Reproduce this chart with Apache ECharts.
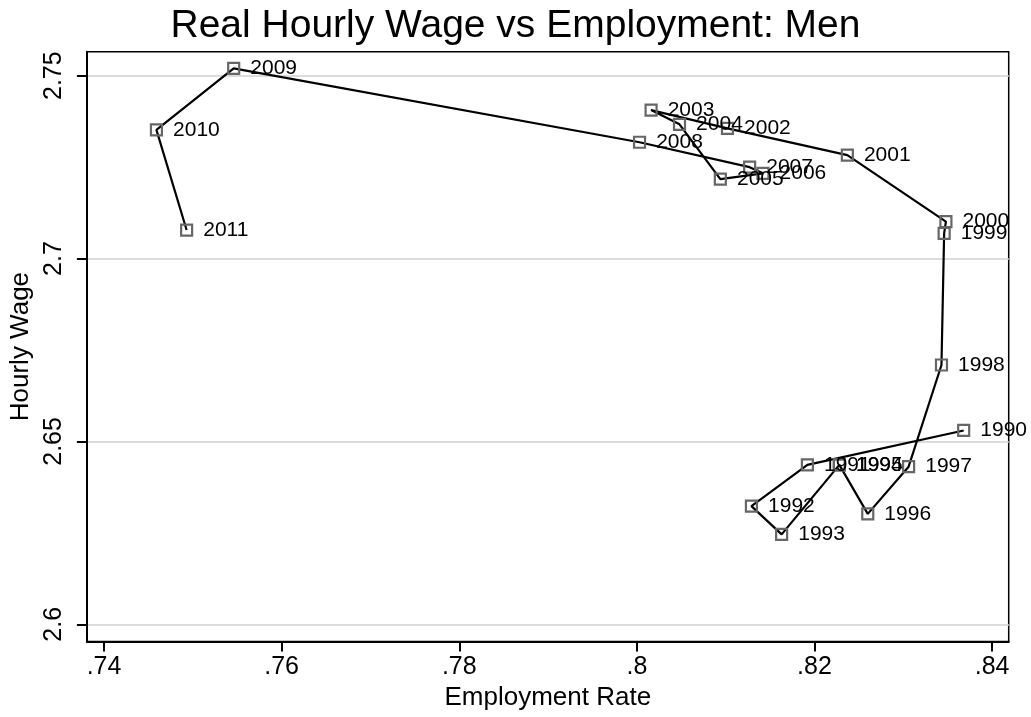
<!DOCTYPE html>
<html lang="en">
<head>
  <meta charset="UTF-8">
  <title>Real Hourly Wage vs Employment: Men</title>
  <script type="text/javascript" src="https://cdn.jsdelivr.net/npm/echarts@6/dist/echarts.min.js"></script>
  <style>
    html, body, #container {
      width: 100%;
      height: 100%;
      margin: 0;
      padding: 0;
      overflow: hidden;
      background: #fff;
    }
  </style>
</head>
<body>
  <div id="container"></div>

  <script type="text/javascript">
    // values
    var years = [1990, 1991, 1992, 1993, 1994, 1995, 1996, 1997, 1998, 1999, 2000,
                 2001, 2002, 2003, 2004, 2005, 2006, 2007, 2008, 2009, 2010, 2011];
    var employment = [.8368, .8192, .8129, .8163, .8228, .8228, .8260, .8306, .8343, .8346, .8348,
                      .8237, .8102, .8016, .8048, .8094, .8142, .8127, .8003, .7546, .7459, .7493];
    var wage = [2.6530, 2.6436, 2.6323, 2.6246, 2.6436, 2.6436, 2.6302, 2.6431, 2.6709, 2.7069, 2.7101,
                2.7283, 2.7356, 2.7406, 2.7367, 2.7217, 2.7233, 2.7250, 2.7318, 2.7520, 2.7352, 2.7078];
    var xTicks = [.74, .76, .78, .80, .82, .84];
    var yTicks = [2.6, 2.65, 2.7, 2.75];

    var points = years.map(function (y, i) { return [employment[i], wage[i]]; });

    function trimLabel(v) {
      return String(+(+v).toFixed(2)).replace(/^0\./, '.');
    }

    var font = "'Liberation Sans', Arial, sans-serif";

    var myChart = echarts.init(document.getElementById('container'), null, { renderer: 'canvas' });
    myChart.setOption({
      animation: false,
      backgroundColor: '#fff',
      title: {
        text: 'Real Hourly Wage vs Employment: Men',
        left: 'center',
        top: 2,
        textStyle: { fontFamily: font, fontSize: 39, fontWeight: 'normal', color: '#000' }
      },
      grid: {
        left: 83.5, right: 22.3, top: 51.7, bottom: 75.5,
        show: true, borderColor: '#000', borderWidth: 1.5, backgroundColor: '#fff'
      },
      xAxis: {
        type: 'value',
        min: 0.73807, max: 0.84187,
        name: 'Employment Rate',
        nameLocation: 'middle',
        nameGap: 41,
        nameTextStyle: { fontFamily: font, fontSize: 26, color: '#000' },
        axisLine: { show: true, lineStyle: { color: '#000', width: 2 } },
        axisTick: { show: true, length: 10, customValues: xTicks, lineStyle: { color: '#000', width: 2 } },
        axisLabel: {
          customValues: xTicks, margin: 13, formatter: trimLabel,
          fontFamily: font, fontSize: 25, color: '#000'
        },
        splitLine: { show: false }
      },
      yAxis: {
        type: 'value',
        min: 2.5953, max: 2.75656,
        name: 'Hourly Wage',
        nameLocation: 'middle',
        nameGap: 49,
        nameTextStyle: { fontFamily: font, fontSize: 26, color: '#000' },
        axisLine: { show: true, lineStyle: { color: '#000', width: 2 } },
        axisTick: { show: true, length: 10, customValues: yTicks, lineStyle: { color: '#000', width: 2 } },
        axisLabel: {
          customValues: yTicks, margin: 20, rotate: 90, formatter: trimLabel,
          fontFamily: font, fontSize: 25, color: '#000'
        },
        splitLine: { show: true, lineStyle: { color: '#dcdcdc', width: 2 } }
      },
      series: [{
        type: 'line',
        data: points,
        symbol: 'rect',
        symbolSize: 11,
        z: 3,
        lineStyle: { color: '#000', width: 2.2 },
        itemStyle: { color: 'rgba(0,0,0,0)', borderColor: '#666', borderWidth: 2.2 },
        label: {
          show: true,
          position: 'right',
          distance: 10,
          offset: [0, -4],
          formatter: function (p) { return String(years[p.dataIndex]); },
          fontFamily: font, fontSize: 21, color: '#000'
        },
        labelLayout: { hideOverlap: false },
        emphasis: { disabled: true }
      }]
    });
  </script>
</body>
</html>
